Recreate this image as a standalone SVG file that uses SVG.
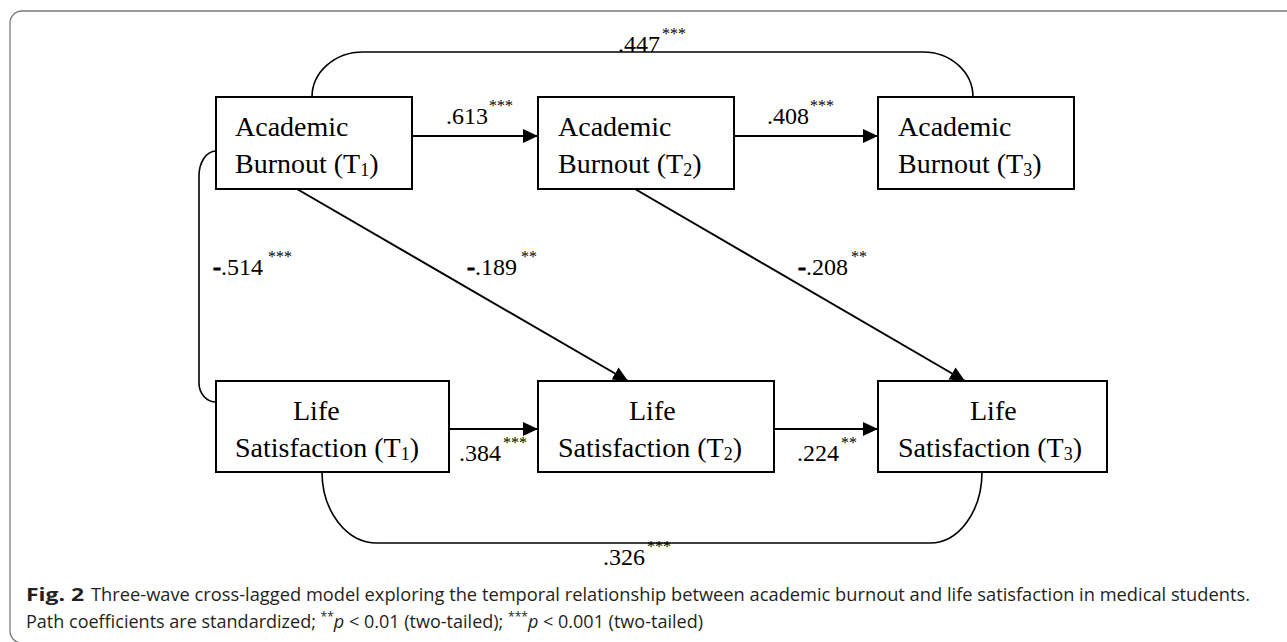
<svg xmlns="http://www.w3.org/2000/svg" width="1287" height="642" viewBox="0 0 1287 642">
<style>
.box{fill:#fff;stroke:#000;stroke-width:2}
.nt{font-family:"Liberation Serif","Times New Roman",serif;font-size:28px;fill:#000}
.sub{font-size:18px}
.lb{font-family:"Liberation Serif","Times New Roman",serif;font-size:24px;fill:#000}
.st{font-size:16px}
.mn{font-weight:bold;stroke:#000;stroke-width:0.9}
.ln{fill:none;stroke:#000;stroke-width:2}
.cv{fill:none;stroke:#000;stroke-width:1.6}
.cap{font-family:"Open Sans","Noto Sans","Liberation Sans",sans-serif;font-size:18px;fill:#231f20}
</style>
<defs>
<marker id="ah" markerUnits="userSpaceOnUse" markerWidth="16" markerHeight="14" refX="15" refY="7" orient="auto">
<path d="M0,0 L15,7 L0,14 z" fill="#000"/>
</marker>
</defs>
<rect x="10" y="11" width="1300" height="632" rx="12" fill="none" stroke="#7a7a7a" stroke-width="1.3"/>

<g id="connectors">
<path class="cv" d="M312,97 A51,45 0 0 1 363,52 H923 A50,45 0 0 1 973,97"/>
<path class="cv" d="M216,151 A17,25 0 0 0 199,176 V383 A17,19 0 0 0 216,402"/>
<path class="cv" d="M322,472 A55,71 0 0 0 377,543 H930 A52,71 0 0 0 982,472"/>
<line class="ln" x1="412" y1="136" x2="538" y2="136" marker-end="url(#ah)"/>
<line class="ln" x1="734" y1="136" x2="878" y2="136" marker-end="url(#ah)"/>
<line class="ln" x1="449" y1="429" x2="538" y2="429" marker-end="url(#ah)"/>
<line class="ln" x1="774" y1="429" x2="878" y2="429" marker-end="url(#ah)"/>
<line class="ln" x1="297" y1="189" x2="628" y2="381" marker-end="url(#ah)"/>
<line class="ln" x1="635" y1="189" x2="965" y2="381" marker-end="url(#ah)"/>
<text class="lb" x="618" y="52">.447<tspan class="st" x="662" dy="-13">***</tspan></text>
<text class="lb" x="446" y="124">.613<tspan class="st" x="489" dy="-13">***</tspan></text>
<text class="lb" x="767" y="124">.408<tspan class="st" x="810" dy="-13">***</tspan></text>
<text class="lb" x="213" y="275"><tspan class="mn">-</tspan>.514<tspan class="st" x="268" dy="-13">***</tspan></text>
<text class="lb" x="467" y="275"><tspan class="mn">-</tspan>.189<tspan class="st" x="521" dy="-13">**</tspan></text>
<text class="lb" x="798" y="275"><tspan class="mn">-</tspan>.208<tspan class="st" x="851" dy="-13">**</tspan></text>
<text class="lb" x="459" y="461">.384<tspan class="st" x="503" dy="-13">***</tspan></text>
<text class="lb" x="797" y="461">.224<tspan class="st" x="841" dy="-13">**</tspan></text>
<text class="lb" x="603" y="565">.326<tspan class="st" x="647" dy="-13">***</tspan></text>
</g>

<g id="ab1">
<rect class="box" x="216" y="97" width="196" height="92"/>
<text class="nt" x="235" y="136">Academic</text>
<text class="nt" x="235" y="173">Burnout (T<tspan class="sub" dy="3">1</tspan><tspan dy="-3">)</tspan></text>
</g>
<g id="ab2">
<rect class="box" x="538" y="97" width="196" height="92"/>
<text class="nt" x="558" y="136">Academic</text>
<text class="nt" x="558" y="173">Burnout (T<tspan class="sub" dy="3">2</tspan><tspan dy="-3">)</tspan></text>
</g>
<g id="ab3">
<rect class="box" x="878" y="97" width="196" height="92"/>
<text class="nt" x="898" y="136">Academic</text>
<text class="nt" x="898" y="173">Burnout (T<tspan class="sub" dy="3">3</tspan><tspan dy="-3">)</tspan></text>
</g>
<g id="ls1">
<rect class="box" x="216" y="381" width="233" height="91"/>
<text class="nt" x="293" y="420">Life</text>
<text class="nt" x="235" y="457">Satisfaction (T<tspan class="sub" dy="3">1</tspan><tspan dy="-3">)</tspan></text>
</g>
<g id="ls2">
<rect class="box" x="538" y="381" width="236" height="91"/>
<text class="nt" x="629" y="420">Life</text>
<text class="nt" x="558" y="457">Satisfaction (T<tspan class="sub" dy="3">2</tspan><tspan dy="-3">)</tspan></text>
</g>
<g id="ls3">
<rect class="box" x="878" y="381" width="229" height="91"/>
<text class="nt" x="970" y="420">Life</text>
<text class="nt" x="898" y="457">Satisfaction (T<tspan class="sub" dy="3">3</tspan><tspan dy="-3">)</tspan></text>
</g>

<g id="caption">
<text class="cap" x="26" y="601" font-weight="bold" textLength="58" lengthAdjust="spacingAndGlyphs">Fig. 2</text>
<text class="cap" x="91" y="601" textLength="1159" lengthAdjust="spacingAndGlyphs">Three-wave cross-lagged model exploring the temporal relationship between academic burnout and life satisfaction in medical students.</text>
<text class="cap" x="26" y="628" textLength="677" lengthAdjust="spacingAndGlyphs">Path coefficients are standardized; <tspan font-size="12" dy="-7">**</tspan><tspan font-style="italic" dy="7">p</tspan> &lt; 0.01 (two-tailed); <tspan font-size="12" dy="-7">***</tspan><tspan font-style="italic" dy="7">p</tspan> &lt; 0.001 (two-tailed)</text>
</g>
</svg>
